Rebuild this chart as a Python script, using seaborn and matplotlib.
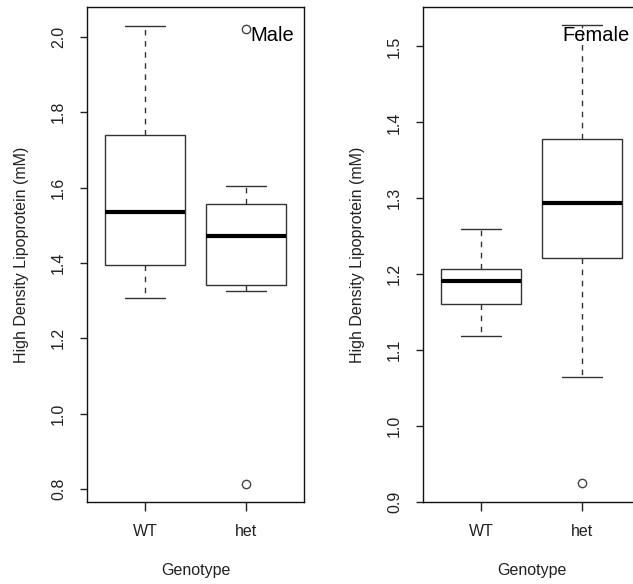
import numpy as np
import pandas as pd
import matplotlib
matplotlib.use("Agg")
import matplotlib.pyplot as plt
import seaborn as sns

# values (HDL, mM) - chosen so the box stats match
male_wt = [1.308, 1.35, 1.395, 1.47, 1.535, 1.62, 1.739, 1.85, 2.029]
male_het = [0.815, 1.325, 1.341, 1.40, 1.471, 1.52, 1.556, 1.605, 2.021]
female_wt = [1.118, 1.14, 1.161, 1.18, 1.191, 1.20, 1.2066, 1.23, 1.259]
female_het = [0.925, 1.064, 1.222, 1.26, 1.294, 1.33, 1.378, 1.45, 1.528]

genotypes = ["WT", "het"]
panel_titles = ["Male", "Female"]
ylims = [(0.766, 2.079), (0.901, 1.552)]
yticks = [[0.8, 1.0, 1.2, 1.4, 1.6, 1.8, 2.0], [0.9, 1.0, 1.1, 1.2, 1.3, 1.4, 1.5]]

sns.set_style("white")
plt.rcParams["font.family"] = ["Liberation Sans", "DejaVu Sans"]

def make_frame(wt, het):
    return pd.DataFrame({
        "Genotype": ["WT"] * len(wt) + ["het"] * len(het),
        "HDL": list(wt) + list(het),
    })

frames = [make_frame(male_wt, male_het), make_frame(female_wt, female_het)]

W, H = 633, 584
fig = plt.figure(figsize=(W / 100, H / 100), dpi=100)
lefts = [87, 423]
axes = [fig.add_axes([l / W, 1 - 502 / H, 217 / W, 495 / H]) for l in lefts]

for ax, df, title, yl, yt in zip(axes, frames, panel_titles, ylims, yticks):
    sns.boxplot(data=df, x="Genotype", y="HDL", order=genotypes, ax=ax,
                color="white", linecolor="#333333", linewidth=1, width=0.8,
                whis=1.5, fliersize=6,
                medianprops=dict(color="black", linewidth=3),
                whiskerprops=dict(linestyle=(0, (4, 4))),
                flierprops=dict(marker="o", markerfacecolor="none",
                                markeredgecolor="#444444", markeredgewidth=1))
    ax.set_xlim(-0.58, 1.58)
    ax.set_ylim(*yl)
    ax.set_yticks(yt)
    ax.set_yticklabels([f"{v:.1f}" for v in yt], rotation=90, va="center")
    for s in ax.spines.values():
        s.set_visible(True)
        s.set_color("#111111")
        s.set_linewidth(1)
    ax.tick_params(axis="y", length=5, width=1, pad=10, labelsize=11.5,
                   colors="#222222", left=True)
    ax.tick_params(axis="x", length=6.5, width=1, pad=9, labelsize=11.5,
                   colors="#222222", bottom=True)
    ax.set_xlabel("Genotype", fontsize=11.5, color="#222222")
    ax.set_ylabel("High Density Lipoprotein (mM)", fontsize=11.5, color="#222222")
    ax.xaxis.set_label_coords(0.5, -0.123)
    ax.yaxis.set_label_coords(-0.265, 0.5)
    ax.text(0.954, 0.943, title, transform=ax.transAxes, ha="right",
            va="center", fontsize=14.5, color="black")

fig.savefig("out.png", dpi=100)
